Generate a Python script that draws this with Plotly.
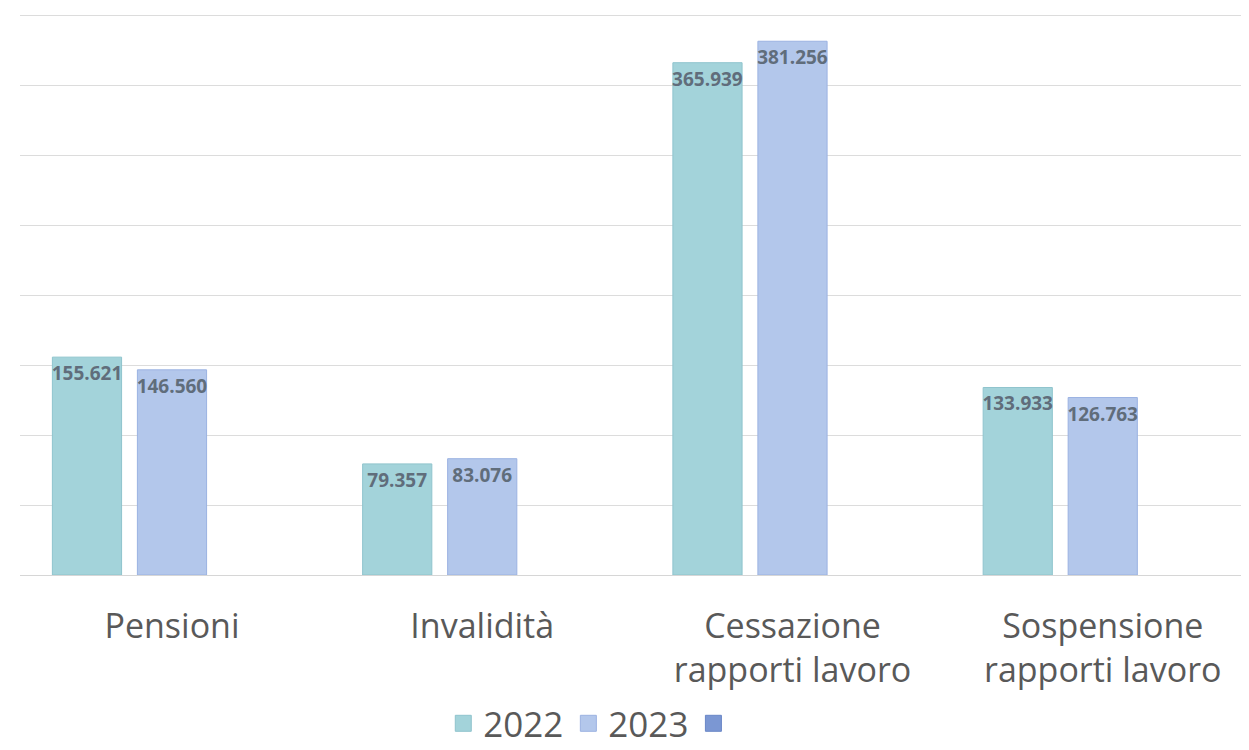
import plotly.graph_objects as go

categories = ["Pensioni", "Invalidità", "Cessazione<br>rapporti lavoro", "Sospensione<br>rapporti lavoro"]
values_2022 = [155621, 79357, 365939, 133933]
values_2023 = [146560, 83076, 381256, 126763]
values_3 = [None, None, None, None]
series_names = ["2022", "2023", " "]

fill_colors = ["#a3d3da", "#b3c7eb", "#7b97d3"]
line_colors = ["#8fc4cd", "#9bb2e2", "#6a87c6"]

bar_width = 0.223
slot = 0.274
offsets = [-slot - bar_width / 2, -bar_width / 2, slot - bar_width / 2]

fig = go.Figure()
for i, (name, vals) in enumerate(zip(series_names, [values_2022, values_2023, values_3])):
    fig.add_trace(go.Bar(
        x=categories, y=vals, name=name, legendgroup=name, showlegend=False,
        width=bar_width, offset=offsets[i],
        marker=dict(color=fill_colors[i], line=dict(color=line_colors[i], width=1)),
        texttemplate="%{y:,.0f}",
        textposition="inside", insidetextanchor="end", textangle=0,
        constraintext="none",
        textfont=dict(family="Open Sans", size=19, color="#606d7b", weight="bold"),
        cliponaxis=False,
    ))
    # legend swatch for the series (no data drawn)
    fig.add_trace(go.Scatter(
        x=[None], y=[None], name=name, legendgroup=name, showlegend=True,
        mode="markers",
        marker=dict(symbol="square", size=16, color=fill_colors[i],
                    line=dict(color=line_colors[i], width=1)),
    ))

fig.update_layout(
    width=1241, height=742,
    margin=dict(l=12, r=0, t=0, b=175, autoexpand=False),
    paper_bgcolor="white", plot_bgcolor="white",
    barmode="overlay",
    separators=",.",
    font=dict(family="Open Sans", color="#595959"),
    xaxis=dict(type="category", range=[-0.4899, 3.4714], showgrid=False,
               tickfont=dict(size=34, color="#595959"), ticks="", showline=False,
               ticklabelstandoff=28),
    yaxis=dict(range=[0, 405000], tickvals=[0, 50000, 100000, 150000, 200000, 250000, 300000, 350000, 400000],
               showgrid=True, gridcolor="#dcdcdc",
               gridwidth=1, zeroline=True, zerolinecolor="#d6d6d6", zerolinewidth=1,
               showticklabels=False, ticks=""),
    legend=dict(orientation="h", x=0.4685, xanchor="center", y=-0.262, yanchor="middle",
                font=dict(size=35, color="#595959"), bgcolor="rgba(0,0,0,0)",
                itemsizing="trace"),
    showlegend=True,
)

fig.write_html("out.html")
